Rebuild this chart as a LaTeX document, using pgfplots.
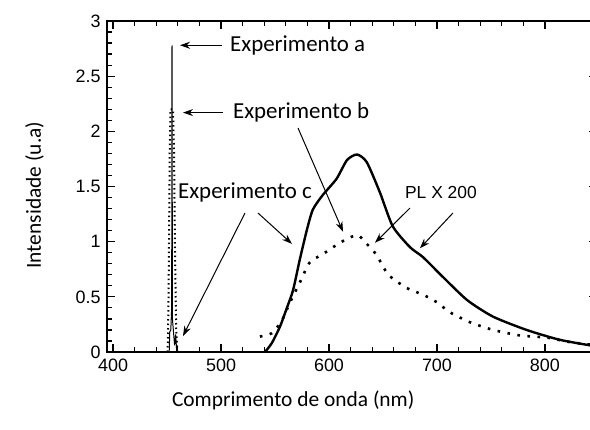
\documentclass[border=0pt]{standalone}
\usepackage{pgfplots}
\pgfplotsset{compat=1.18}
\usetikzlibrary{arrows.meta}
\usepackage{fontspec}
\setmainfont{Carlito}
\newfontfamily\tickfont{Liberation Sans}
\begin{document}
\begin{tikzpicture}
\begin{axis}[
  scale only axis, width=490bp, height=331bp,
  xmin=394.4, xmax=848.2, ymin=0, ymax=3,
  axis line style={line width=1.8bp},
  tick align=inside,
  xtick={400,500,...,800}, ytick={0,0.5,...,3},
  minor x tick num=4, minor y tick num=4,
  major tick length=8bp, minor tick length=5bp,
  every tick/.style={black, line width=1.2bp},
  tick label style={font=\tickfont\fontsize{18}{20}\selectfont},
  /pgf/number format/assume math mode=true,
  xticklabel style={yshift=-3bp},
  yticklabel style={xshift=-3bp},
  xlabel={Comprimento de onda (nm)},
  ylabel={Intensidade (u.a)},
  label style={font=\fontsize{21.5}{24}\selectfont},
  xlabel style={at={(rel axis cs:0.38,-0.145)}, anchor=center},
  ylabel style={at={(rel axis cs:-0.148,0.474)}, anchor=center, rotate=0},
  clip=false,
]
% Experimento a (pico fino, linha cheia)
\addplot[black, line width=1bp] coordinates {
  (448,0) (452,0) (452.5,0.18) (453.5,0.2) (454.3,0.4) (454.6,2.78) (455,0.3)
  (456,0.18) (457,0.06) (458,0.16) (459,0) (465,0)};
% Experimento b (pico pontilhado)
\addplot[black, line width=2bp, dash pattern=on 1.5bp off 3bp] coordinates {
  (450.5,0) (451,0.2) (451.5,0.6) (452,1.2) (452.5,1.8) (453.2,2.2) (455.5,2.2)
  (456.5,1.8) (457.3,1.0) (458,0.5) (458.5,0.2) (459.5,0)};
% PL X 200 (linha cheia)
\addplot[black, line width=2.4bp, smooth, tension=0.4] coordinates {
  (540.7,0) (547,0.08) (554.6,0.23) (561,0.40) (566.7,0.56) (573,0.84) (579.6,1.11)
  (585,1.29) (594,1.42) (607,1.57) (616.7,1.74) (626,1.79) (635,1.72)
  (647,1.45) (659,1.14) (675,0.95) (687,0.86) (705.5,0.68) (728,0.47)
  (752,0.32) (783,0.20) (814,0.11) (848,0.05)};
% Experimento b (curva pontilhada)
\addplot[black, line width=2.6bp, dash pattern=on 2.6bp off 7.5bp, smooth, tension=0.4] coordinates {
  (536,0.14) (547,0.17) (556,0.28) (564,0.45) (573,0.63) (582,0.81) (593,0.88)
  (601,0.93) (610,0.99) (626,1.06) (635,0.98) (644,0.88) (655,0.70)
  (672,0.58) (687,0.52) (700,0.45) (712,0.36) (730.5,0.27) (752,0.20)
  (777,0.15) (802,0.13) (823,0.09) (848,0.06)};
% anotações
\tikzset{ann/.style={line width=1bp, -{Stealth[length=10bp, width=7bp]}}}
\draw[ann] (axis cs:500.9,2.78) -- (axis cs:462,2.78);
\draw[ann] (axis cs:501.8,2.17) -- (axis cs:464.8,2.17);
\draw[ann] (axis cs:571.3,2.03) -- (axis cs:613,1.09);
\draw[ann] (axis cs:522.2,1.26) -- (axis cs:464.8,0.145);
\draw[ann] (axis cs:534.2,1.26) -- (axis cs:565.7,0.98);
\draw[ann] (axis cs:675,1.305) -- (axis cs:642.6,0.99);
\draw[ann] (axis cs:714.8,1.26) -- (axis cs:684.2,0.94);
\node[anchor=west, inner sep=0pt, font=\fontsize{23}{26}\selectfont] at (axis cs:508.3,2.78) {Experimento a};
\node[anchor=west, inner sep=0pt, font=\fontsize{23}{26}\selectfont] at (axis cs:511,2.175) {Experimento b};
\node[anchor=west, inner sep=0pt, font=\fontsize{23}{26}\selectfont, fill=white] at (axis cs:460.1,1.45) {Experimento c};
\node[anchor=west, inner sep=0pt, font=\tickfont\fontsize{17.5}{20}\selectfont] at (axis cs:670.3,1.45) {PL X 200};
\end{axis}
\pgfresetboundingbox
\useasboundingbox (-107bp,-78bp) rectangle (483bp,352bp);
\end{tikzpicture}
\end{document}
